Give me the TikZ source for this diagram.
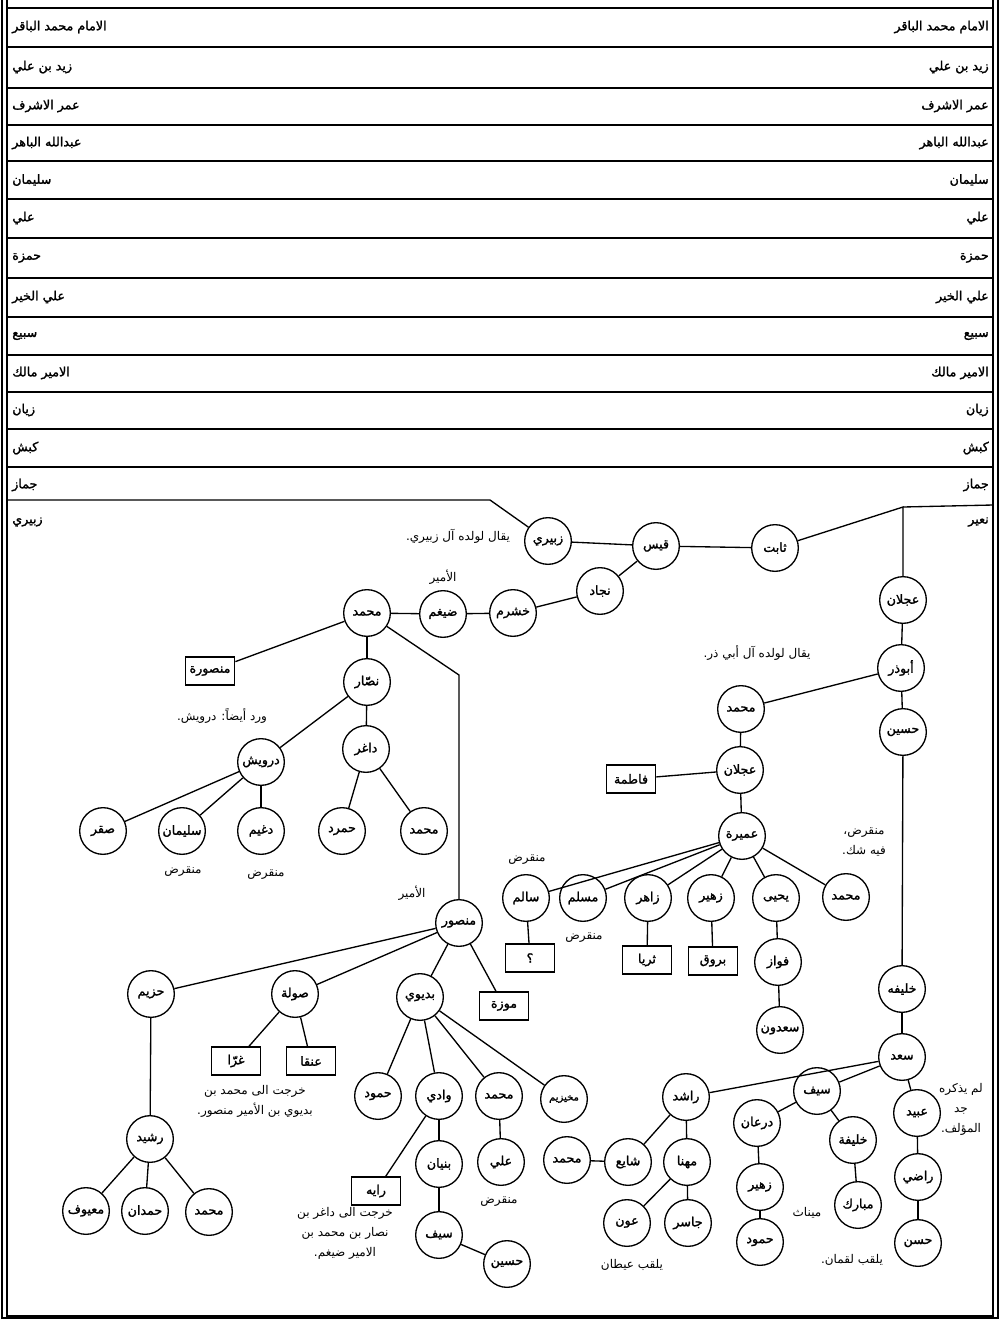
\documentclass[tikz,border=0pt]{standalone}
\usepackage{fontspec}
\newfontfamily\arabicfont[Script=Arabic]{DejaVu Sans}
\newfontfamily\arabicbf[Script=Arabic,FakeBold=1.6]{DejaVu Sans}
\TeXXeTstate=1
\newcommand\artx[1]{{\arabicbf\beginR #1\endR}}
\newcommand\arnote[1]{{\arabicfont\beginR #1\endR}}
\begin{document}
\begin{tikzpicture}[x=0.75pt,y=-0.75pt,
 every node/.style={font=\fontsize{9.5}{11}\selectfont},
 pers/.style={circle,draw,line width=1pt,minimum size=35pt,inner sep=0pt},
 dau/.style={rectangle,draw,line width=1.1pt,minimum width=37pt,minimum height=21pt,inner sep=1pt},
 note/.style={inner sep=1pt,font=\fontsize{9}{15}\selectfont,align=center},
 link/.style={line width=1pt},
 rowline/.style={line width=1pt},
 rowtext/.style={inner sep=0pt,font=\fontsize{9.5}{11}\selectfont}]
\useasboundingbox (0,0) rectangle (1003,1320);
% frame
\draw[line width=0.8pt] (7,0) -- (7,1316) -- (993,1316) -- (993,0);
\draw[line width=1.8pt] (2,0) -- (2,1318) -- (998,1318) -- (998,0);
\foreach \y in {8,47,88,125,161,199,238,278,317,355,392,429,467} \draw[rowline] (7,\y) -- (993,\y);
\foreach \i/\y/\t in {1/27/الامام محمد الباقر,2/67/زيد بن علي,3/106/عمر الاشرف,4/143/عبدالله الباهر,5/180/سليمان,6/218/علي,7/258/حمزة,8/297/علي الخير,9/336/سبيع,10/373/الامير مالك,11/410/زيان,12/448/كبش,13/485/جماز}{
  \node[rowtext,anchor=east] (rR\i) at (989,\y) {\artx{\t}};
  \node[rowtext,anchor=west] (rL\i) at (12,\y) {\artx{\t}};
}
\node[rowtext,anchor=east] (rR14) at (989,522) {\artx{نعير}};
\node[rowtext,anchor=west] (rL14) at (12,522) {\artx{زبيري}};
% ---------- left tree ----------
\node[pers] (zubayri) at (548,541) {\artx{زبيري}};
\node[pers] (qays) at (656,546) {\artx{قيس}};
\node[pers] (thabit) at (775,548) {\artx{ثابت}};
\node[pers] (najjad) at (600,591) {\artx{نجاد}};
\node[pers] (khashram) at (513,613) {\artx{خشرم}};
\node[pers] (daygham) at (443,614) {\artx{ضيغم}};
\node[pers] (muhA) at (367,613) {\artx{محمد}};
\node[note] (amirA) at (443,577) {\arnote{الأمير}};
\node[note] (zubNote) at (458,536) {\arnote{يقال لولده آل زبيري.}};
\node[dau] (mansura) at (210,671) {\artx{منصورة}};
\node[pers] (nassar) at (367,682) {\artx{نصّار}};
\node[pers] (daghir) at (366,749) {\artx{داغر}};
\node[pers] (darwish) at (261,762) {\artx{درويش}};
\node[note] (darNote) at (222,716) {\arnote{ورد أيضاً: درويش.}};
\node[pers] (saqr) at (103,831) {\artx{صقر}};
\node[pers] (sulayman) at (182,831) {\artx{سليمان}};
\node[pers] (dughaym) at (261,831) {\artx{دغيم}};
\node[pers] (hamrad) at (342,831) {\artx{حمرد}};
\node[pers] (muhB) at (424,831) {\artx{محمد}};
\node[note] (extA) at (183,872) {\arnote{منقرض}};
\node[note] (extB) at (266,875) {\arnote{منقرض}};
\coordinate (cA) at (459,675);
\node[pers] (mansur) at (459,923) {\artx{منصور}};
\node[note] (amirB) at (412,893) {\arnote{الأمير}};
\node[pers] (huzaym) at (151,994) {\artx{حزيم}};
\node[pers] (sawla) at (295,994) {\artx{صولة}};
\node[pers] (badiwi) at (420,997) {\artx{بديوي}};
\node[dau] (mawza) at (504,1006) {\artx{موزة}};
\node[dau] (ghurra) at (236,1061) {\artx{غرّا}};
\node[dau] (anqa) at (311,1061) {\artx{عنقا}};
\node[note] (ghNote) at (255,1101) {\arnote{خرجت الى محمد بن}\\\arnote{بديوي بن الأمير منصور.}};
\node[pers] (hamudA) at (378,1096) {\artx{حمود}};
\node[pers] (wadi) at (439,1096) {\artx{وادي}};
\node[pers] (muhC) at (499,1096) {\artx{محمد}};
\node[pers,font=\fontsize{7.5}{9}\selectfont] (mukhayzim) at (564,1099) {\artx{مخيزيم}};
\node[dau] (raya) at (376,1191) {\artx{رايه}};
\node[note] (rayaNote) at (345,1233) {\arnote{خرجت الى داغر بن}\\\arnote{نصار بن محمد بن}\\\arnote{الامير ضيغم.}};
\node[pers] (bunyan) at (439,1164) {\artx{بنيان}};
\node[pers] (aliA) at (501,1162) {\artx{علي}};
\node[note] (extC) at (499,1202) {\arnote{منقرض}};
\node[pers] (sayfA) at (439,1235) {\artx{سيف}};
\node[pers] (husaynA) at (507,1264) {\artx{حسين}};
\node[pers] (rashidA) at (150,1139) {\artx{رشيد}};
\node[pers] (maayuf) at (86,1211) {\artx{معيوف}};
\node[pers] (hamdan) at (145,1211) {\artx{حمدان}};
\node[pers] (muhD) at (209,1212) {\artx{محمد}};
% ---------- right tree ----------
\coordinate (j1) at (903,507);
\coordinate (rEnd) at (993,505);
\coordinate (lStart) at (7,500);
\coordinate (lBend) at (490,500);
\node[pers] (ajlanA) at (903,600) {\artx{عجلان}};
\node[pers] (abudhar) at (901,668) {\artx{أبوذر}};
\node[pers] (husaynB) at (903,732) {\artx{حسين}};
\node[note] (abuNote) at (757,653) {\arnote{يقال لولده آل أبي ذر.}};
\node[pers] (muhE) at (741,709) {\artx{محمد}};
\node[pers] (ajlanB) at (740,770) {\artx{عجلان}};
\node[dau] (fatima) at (631,779) {\artx{فاطمة}};
\node[pers] (umayra) at (742,836) {\artx{عميرة}};
\node[note] (umNote) at (864,842) {\arnote{منقرض،}\\\arnote{فيه شك.}};
\node[pers] (salim) at (526,898) {\artx{سالم}};
\node[pers] (muslim) at (583,898) {\artx{مسلم}};
\node[pers] (zahir) at (648,898) {\artx{زاهر}};
\node[pers] (zuhayrA) at (711,898) {\artx{زهير}};
\node[pers] (yahya) at (776,898) {\artx{يحيى}};
\node[pers] (muhF) at (846,897) {\artx{محمد}};
\node[note] (extD) at (527,860) {\arnote{منقرض}};
\node[note] (extE) at (584,938) {\arnote{منقرض}};
\node[dau] (qbox) at (530,958) {\artx{؟}};
\node[dau] (thurayya) at (647,960) {\artx{ثريا}};
\node[dau] (buruq) at (713,961) {\artx{بروق}};
\node[pers] (fawwaz) at (778,962) {\artx{فواز}};
\node[pers] (saadun) at (780,1030) {\artx{سعدون}};
\node[pers] (khalifaA) at (902,989) {\artx{خليفه}};
\node[pers] (saad) at (902,1057) {\artx{سعد}};
\node[pers] (rashidB) at (686,1097) {\artx{راشد}};
\node[pers] (sayfB) at (817,1091) {\artx{سيف}};
\node[pers] (ubayd) at (917,1113) {\artx{عبيد}};
\node[note] (ubNote) at (961,1109) {\arnote{لم يذكره}\\\arnote{جد}\\\arnote{المؤلف.}};
\node[pers] (dirhan) at (757,1123) {\artx{درعان}};
\node[pers] (khalifaB) at (853,1140) {\artx{خليفة}};
\node[pers] (muhG) at (567,1160) {\artx{محمد}};
\node[pers] (shayi) at (628,1162) {\artx{شايع}};
\node[pers] (muhanna) at (687,1162) {\artx{مهنا}};
\node[pers] (radi) at (918,1177) {\artx{راضي}};
\node[pers] (zuhayrB) at (760,1187) {\artx{زهير}};
\node[pers] (mubarak) at (858,1205) {\artx{مبارك}};
\node[note] (mayNote) at (807,1213) {\arnote{ميناث}};
\node[pers] (awn) at (627,1223) {\artx{عون}};
\node[pers] (jasir) at (688,1223) {\artx{جاسر}};
\node[pers] (hamudB) at (760,1242) {\artx{حمود}};
\node[pers] (hasan) at (918,1243) {\artx{حسن}};
\node[note] (awnNote) at (632,1265) {\arnote{يلقب عيطان}};
\node[note] (mubNote) at (852,1260) {\arnote{يلقب لقمان.}};
% ---------- connectors ----------
\draw[rowline] (lStart) -- (lBend) -- (zubayri);
\draw[link] (thabit) -- (j1) -- (ajlanA);
\draw[rowline] (j1) -- (rEnd);
\foreach \a/\b in {zubayri/qays,qays/thabit,qays/najjad,najjad/khashram,khashram/daygham,daygham/muhA,
 muhA/mansura,muhA/nassar,nassar/darwish,nassar/daghir,darwish/saqr,darwish/sulayman,darwish/dughaym,
 daghir/hamrad,daghir/muhB,mansur/huzaym,mansur/sawla,mansur/badiwi,mansur/mawza,sawla/ghurra,sawla/anqa,
 badiwi/hamudA,badiwi/wadi,badiwi/muhC,badiwi/mukhayzim,wadi/raya,wadi/bunyan,bunyan/sayfA,sayfA/husaynA,
 muhC/aliA,huzaym/rashidA,rashidA/maayuf,rashidA/hamdan,rashidA/muhD,
 ajlanA/abudhar,abudhar/muhE,abudhar/husaynB,husaynB/khalifaA,khalifaA/saad,muhE/ajlanB,ajlanB/fatima,
 ajlanB/umayra,umayra/salim,umayra/muslim,umayra/zahir,umayra/zuhayrA,umayra/yahya,umayra/muhF,
 salim/qbox,zahir/thurayya,zuhayrA/buruq,yahya/fawwaz,fawwaz/saadun,saad/rashidB,saad/sayfB,saad/ubayd,
 rashidB/shayi,rashidB/muhanna,shayi/muhG,muhanna/awn,muhanna/jasir,sayfB/dirhan,sayfB/khalifaB,
 dirhan/zuhayrB,zuhayrB/hamudB,khalifaB/mubarak,ubayd/radi,radi/hasan}
 \draw[link] (\a) -- (\b);
\draw[link] (muhA) -- (cA) -- (mansur);
\end{tikzpicture}
\end{document}
